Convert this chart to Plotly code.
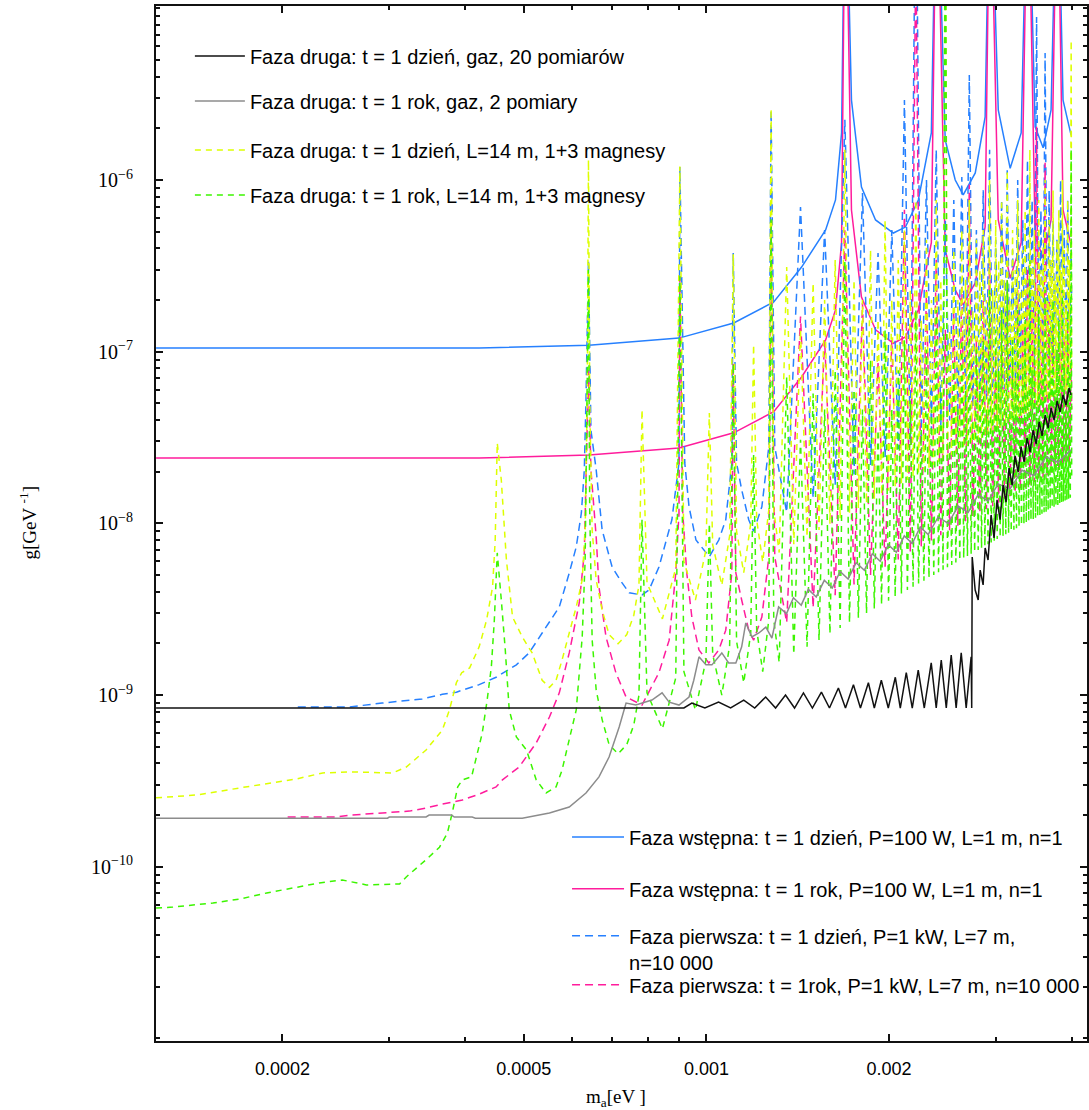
import plotly.graph_objects as go

# ---------------- data ----------------
# x: m_a [eV], y: g [GeV^-1]

# Faza wstepna (L=1 m): blue / pink solid, shared masses
solid_m = [1.238e-4, 4.22e-4, 6.40e-4, 9.01e-4, 1.109e-3, 1.291e-3, 1.435e-3, 1.572e-3, 1.632e-3,
           1.670e-3, 1.694e-3, 1.734e-3, 1.801e-3, 1.900e-3, 2.033e-3, 2.128e-3, 2.235e-3, 2.348e-3,
           2.396e-3, 2.475e-3, 2.571e-3, 2.650e-3, 2.774e-3, 2.880e-3, 2.934e-3, 3.027e-3, 3.167e-3,
           3.302e-3, 3.388e-3, 3.482e-3, 3.589e-3, 3.699e-3, 3.788e-3, 3.871e-3, 3.990e-3]
blue_solid_g = [1.05e-7, 1.05e-7, 1.09e-7, 1.20e-7, 1.47e-7, 1.95e-7, 3.11e-7, 5.12e-7, 7.65e-7,
                1.88e-6, 1e-4, 2.92e-6, 9.1e-7, 5.85e-7, 4.91e-7, 5.32e-7, 7.65e-7, 1.88e-6,
                1e-4, 1.71e-6, 1.0e-6, 8.2e-7, 1.10e-6, 2.33e-6, 1e-4, 2.56e-6, 1.17e-6,
                1.88e-6, 1e-4, 2.04e-6, 1.54e-6, 2.56e-6, 1e-4, 2.92e-6, 1.83e-6]
pink_solid_g = [2.40e-8, 2.40e-8, 2.50e-8, 2.75e-8, 3.37e-8, 4.47e-8, 7.12e-8, 1.17e-7, 1.75e-7,
                4.31e-7, 1e-4, 6.69e-7, 2.08e-7, 1.34e-7, 1.12e-7, 1.22e-7, 1.75e-7, 4.31e-7,
                1e-4, 3.92e-7, 2.29e-7, 1.88e-7, 2.52e-7, 5.34e-7, 1e-4, 5.86e-7, 2.68e-7,
                4.31e-7, 1e-4, 4.67e-7, 3.53e-7, 5.86e-7, 1e-4, 6.69e-7, 4.19e-7]

# Faza pierwsza (L=7 m): blue / pink dashed
blue_dash_early_m = [2.12e-4, 2.58e-4, 2.92e-4, 3.40e-4, 3.67e-4, 3.87e-4, 4.22e-4, 4.50e-4, 4.86e-4,
                     5.10e-4, 5.36e-4, 5.72e-4, 5.94e-4, 6.10e-4, 6.22e-4, 6.29e-4, 6.33e-4, 6.39e-4,
                     6.45e-4, 6.58e-4, 6.73e-4, 6.99e-4, 7.26e-4, 7.46e-4, 7.83e-4, 8.04e-4, 8.35e-4,
                     8.77e-4, 9.01e-4, 9.04e-4, 9.21e-4, 9.36e-4, 9.61e-4, 1.011e-3, 1.048e-3, 1.076e-3,
                     1.101e-3, 1.107e-3, 1.121e-3, 1.143e-3, 1.174e-3, 1.196e-3, 1.234e-3, 1.267e-3,
                     1.278e-3, 1.296e-3]
blue_dash_early_g = [8.53e-10, 8.53e-10, 8.99e-10, 9.49e-10, 1.01e-9, 1.04e-9, 1.15e-9, 1.27e-9, 1.50e-9,
                     1.76e-9, 2.30e-9, 3.26e-9, 5.14e-9, 7.29e-9, 1.15e-8, 2.05e-8, 5.23e-8, 3.42e-7,
                     3.5e-8, 2.05e-8, 9.16e-9, 5.57e-9, 4.50e-9, 3.94e-9, 3.83e-9, 4.09e-9, 5.57e-9,
                     1.05e-8, 2.25e-8, 1.19e-6, 2.25e-8, 1.25e-8, 8.0e-9, 6.4e-9, 8.0e-9, 1.05e-8,
                     2.25e-8, 3.76e-7, 2.25e-8, 1.57e-8, 1.05e-8, 9.0e-9, 1.25e-8, 2.79e-8,
                     2.56e-6, 2.79e-8]
pink_dash_early_m = [2.04e-4, 2.46e-4, 2.58e-4, 2.92e-4, 3.24e-4, 3.45e-4, 3.67e-4, 3.96e-4, 4.22e-4,
                     4.50e-4, 4.61e-4, 4.91e-4, 5.24e-4, 5.51e-4, 5.72e-4, 5.94e-4, 6.17e-4, 6.29e-4,
                     6.39e-4, 6.45e-4, 6.58e-4, 6.65e-4, 6.83e-4, 7.09e-4, 7.37e-4, 7.83e-4, 8.35e-4,
                     8.68e-4, 8.90e-4, 9.01e-4, 9.04e-4, 9.14e-4, 9.28e-4, 9.46e-4, 9.72e-4, 1.009e-3,
                     1.048e-3, 1.076e-3, 1.101e-3, 1.107e-3, 1.118e-3, 1.143e-3, 1.174e-3, 1.196e-3,
                     1.234e-3, 1.267e-3, 1.278e-3, 1.296e-3]
pink_dash_early_g = [1.95e-10, 1.95e-10, 2.00e-10, 2.06e-10, 2.11e-10, 2.20e-10, 2.32e-10, 2.45e-10, 2.65e-10,
                     2.92e-10, 3.21e-10, 3.81e-10, 5.26e-10, 7.45e-10, 1.03e-9, 1.76e-9, 3.44e-9, 6.73e-9,
                     7.8e-8, 2.05e-8, 8.34e-9, 4.26e-9, 2.18e-9, 1.35e-9, 9.75e-10, 8.75e-10, 1.35e-9,
                     2.09e-9, 5.14e-9, 1.15e-8, 2.72e-7, 1.15e-8, 5.14e-9, 2.85e-9, 1.83e-9, 1.54e-9,
                     1.83e-9, 2.39e-9, 5.14e-9, 8.6e-8, 5.14e-9, 3.58e-9, 2.39e-9, 2.09e-9,
                     2.85e-9, 6.37e-9, 5.85e-7, 6.37e-9]
l7_min_m = [0.001356, 0.001499, 0.001630, 0.001751, 0.001864, 0.001970, 0.002071, 0.002168, 0.002260,
            0.002349, 0.002434, 0.002517, 0.002597, 0.002674, 0.002749, 0.002823, 0.002894, 0.002964,
            0.003032, 0.003099, 0.003164, 0.003228, 0.003291, 0.003352, 0.003413, 0.003472, 0.003530,
            0.003588, 0.003644, 0.003700, 0.003755, 0.003809, 0.003862, 0.003914, 0.003966]
l7_peak_m = [0.001429, 0.001566, 0.001691, 0.001808, 0.001918, 0.002021, 0.002120, 0.002214, 0.002305,
             0.002392, 0.002476, 0.002557, 0.002636, 0.002712, 0.002786, 0.002859, 0.002929, 0.002998,
             0.003066, 0.003132, 0.003196, 0.003259, 0.003322, 0.003382, 0.003442, 0.003501, 0.003559,
             0.003616, 0.003672, 0.003727, 0.003782, 0.003835, 0.003888, 0.003940, 0.003992]
blue_dash_min_g = [1.16e-8, 1.41e-8, 1.67e-8, 1.93e-8, 2.18e-8, 2.44e-8, 2.70e-8, 2.96e-8, 3.21e-8,
                   3.47e-8, 3.73e-8, 3.98e-8, 4.24e-8, 4.50e-8, 4.75e-8, 5.01e-8, 5.27e-8, 5.53e-8,
                   5.78e-8, 6.04e-8, 6.30e-8, 6.55e-8, 6.81e-8, 7.07e-8, 7.32e-8, 7.58e-8, 7.84e-8,
                   8.10e-8, 8.35e-8, 8.61e-8, 8.87e-8, 9.12e-8, 9.38e-8, 9.64e-8, 9.89e-8]
blue_dash_peak_g = [6.97e-7, 5.12e-7, 2.24e-6, 8.4e-7, 3.76e-7, 5.12e-7, 2.92e-6, 1e-4, 1.0e-6,
                    1.5e-6, 5.85e-7, 7.65e-7, 1.04e-6, 4.09e-6, 5.12e-7, 8.7e-7, 1.5e-6, 4.48e-7,
                    7.65e-7, 1.14e-6, 3.91e-7, 1.0e-6, 5.85e-7, 1.31e-6, 7.65e-7, 8.9e-6, 6.68e-7,
                    5.5e-6, 8.7e-7, 5.85e-7, 4.48e-7, 1.0e-6, 5.12e-7, 7.65e-7, 3.91e-7]
pink_dash_min_g = [2.65e-9, 3.23e-9, 3.82e-9, 4.41e-9, 5.00e-9, 5.59e-9, 6.17e-9, 6.76e-9, 7.35e-9,
                   7.94e-9, 8.53e-9, 9.11e-9, 9.70e-9, 1.03e-8, 1.09e-8, 1.15e-8, 1.21e-8, 1.26e-8,
                   1.32e-8, 1.38e-8, 1.44e-8, 1.50e-8, 1.56e-8, 1.62e-8, 1.68e-8, 1.74e-8, 1.79e-8,
                   1.85e-8, 1.91e-8, 1.97e-8, 2.03e-8, 2.09e-8, 2.15e-8, 2.21e-8, 2.26e-8]
pink_dash_peak_g = [1.6e-7, 1.17e-7, 5.1e-7, 1.92e-7, 8.6e-8, 1.17e-7, 6.7e-7, 2.3e-5, 2.29e-7,
                    3.43e-7, 1.34e-7, 1.75e-7, 2.38e-7, 9.4e-7, 1.17e-7, 1.99e-7, 3.43e-7, 1.03e-7,
                    1.75e-7, 2.61e-7, 8.9e-8, 2.29e-7, 1.34e-7, 3.0e-7, 1.75e-7, 2.04e-6, 1.53e-7,
                    1.26e-6, 1.99e-7, 1.34e-7, 1.03e-7, 2.29e-7, 1.17e-7, 1.75e-7, 8.9e-8]
end_m = 0.004
blue_dash_end_g = 2.0e-7
pink_dash_end_g = 4.6e-8

# Faza druga, L=14 m, 1+3 magnesy: yellow / green dashed
yellow_early_m = [1.238e-4, 1.446e-4, 1.701e-4, 2.11e-4, 2.33e-4, 2.58e-4, 3.04e-4, 3.20e-4, 3.45e-4,
                  3.67e-4, 3.77e-4, 3.87e-4, 3.95e-4, 4.07e-4, 4.22e-4, 4.34e-4, 4.44e-4, 4.485e-4,
                  4.52e-4, 4.59e-4, 4.68e-4, 4.79e-4, 4.97e-4, 5.16e-4, 5.36e-4, 5.51e-4, 5.65e-4,
                  5.78e-4, 5.94e-4, 6.10e-4, 6.24e-4, 6.31e-4, 6.36e-4, 6.39e-4, 6.42e-4, 6.48e-4,
                  6.58e-4, 6.73e-4, 6.91e-4, 7.15e-4, 7.39e-4, 7.59e-4, 7.74e-4, 7.83e-4, 7.98e-4,
                  8.46e-4, 8.90e-4, 9.04e-4, 9.18e-4, 9.59e-4, 9.98e-4, 1.011e-3, 1.024e-3, 1.060e-3,
                  1.092e-3, 1.107e-3, 1.121e-3, 1.152e-3, 1.183e-3, 1.196e-3, 1.210e-3, 1.238e-3,
                  1.267e-3, 1.278e-3, 1.291e-3]
yellow_early_g = [2.52e-10, 2.62e-10, 2.88e-10, 3.25e-10, 3.52e-10, 3.57e-10, 3.52e-10, 3.81e-10, 4.79e-10,
                  6.26e-10, 8.19e-10, 1.18e-9, 1.35e-9, 1.44e-9, 1.91e-9, 2.73e-9, 4.26e-9, 8.0e-9,
                  2.94e-8, 1.79e-8, 6.12e-9, 2.85e-9, 2.18e-9, 1.76e-9, 1.22e-9, 1.11e-9, 1.22e-9,
                  1.60e-9, 2.30e-9, 3.26e-9, 4.68e-9, 9.16e-9, 5.23e-8, 1.31e-6, 5.23e-8, 9.16e-9,
                  4.68e-9, 3.13e-9, 2.25e-9, 1.99e-9, 2.25e-9, 2.92e-9, 4.38e-9, 4.6e-8, 4.5e-9,
                  2.78e-9, 5.5e-9, 1.2e-6, 6e-9, 3.58e-9, 7e-9, 4.4e-8, 7.5e-9, 4.37e-9,
                  8.5e-9, 3.7e-7, 9e-9, 5.17e-9, 1e-8, 1.1e-7, 1.05e-8, 5.96e-9,
                  1.2e-8, 2.6e-6, 1.2e-8]
green_early_m = [1.238e-4, 1.32e-4, 1.536e-4, 1.701e-4, 1.884e-4, 2.08e-4, 2.30e-4, 2.51e-4, 2.61e-4,
                 2.75e-4, 3.12e-4, 3.20e-4, 3.45e-4, 3.63e-4, 3.74e-4, 3.81e-4, 3.89e-4, 3.96e-4,
                 4.10e-4, 4.27e-4, 4.35e-4, 4.42e-4, 4.47e-4, 4.52e-4, 4.59e-4, 4.66e-4, 4.73e-4,
                 4.86e-4, 5.05e-4, 5.24e-4, 5.44e-4, 5.65e-4, 5.78e-4, 5.94e-4, 6.10e-4, 6.24e-4,
                 6.31e-4, 6.39e-4, 6.42e-4, 6.48e-4, 6.58e-4, 6.73e-4, 6.91e-4, 7.15e-4, 7.39e-4,
                 7.59e-4, 7.74e-4, 7.83e-4, 7.98e-4, 8.46e-4, 8.90e-4, 9.04e-4, 9.18e-4, 9.59e-4,
                 9.98e-4, 1.011e-3, 1.024e-3, 1.060e-3, 1.092e-3, 1.107e-3, 1.121e-3, 1.152e-3,
                 1.183e-3, 1.196e-3, 1.210e-3, 1.238e-3, 1.267e-3, 1.278e-3, 1.291e-3]
green_early_g = [5.75e-11, 5.83e-11, 6.15e-11, 6.49e-11, 7.04e-11, 7.53e-11, 8.05e-11, 8.38e-11, 8.16e-11,
                 7.84e-11, 7.94e-11, 8.73e-11, 1.10e-10, 1.30e-10, 1.57e-10, 2.06e-10, 2.92e-10, 3.21e-10,
                 3.34e-10, 6.01e-10, 9.36e-10, 1.46e-9, 2.73e-9, 6.73e-9, 3.58e-9, 1.83e-9, 8.19e-10,
                 5.70e-10, 4.79e-10, 3.21e-10, 2.69e-10, 2.92e-10, 3.66e-10, 5.48e-10, 8.19e-10, 2.18e-9,
                 6.12e-9, 2.99e-7, 1.2e-8, 2.1e-9, 1.07e-9, 7.2e-10, 5.15e-10, 4.55e-10, 5.15e-10,
                 6.7e-10, 1.0e-9, 1.05e-8, 1.03e-9, 6.37e-10, 1.26e-9, 2.75e-7, 1.37e-9, 8.19e-10,
                 1.6e-9, 1.0e-8, 1.72e-9, 1.0e-9, 1.95e-9, 8.5e-8, 2.06e-9, 1.18e-9,
                 2.29e-9, 2.5e-8, 2.4e-9, 1.37e-9, 2.75e-9, 5.9e-7, 2.75e-9]
l14_min_m = [0.001318, 0.001393, 0.001465, 0.001533, 0.001598, 0.001661, 0.001721, 0.001780, 0.001836,
             0.001891, 0.001944, 0.001996, 0.002047, 0.002096, 0.002144, 0.002191, 0.002237, 0.002283,
             0.002327, 0.002370, 0.002413, 0.002455, 0.002496, 0.002537, 0.002577, 0.002616, 0.002655,
             0.002693, 0.002731, 0.002768, 0.002805, 0.002841, 0.002877, 0.002912, 0.002947, 0.002981,
             0.003015, 0.003049, 0.003082, 0.003115, 0.003148, 0.003180, 0.003212, 0.003244, 0.003275,
             0.003306, 0.003337, 0.003367, 0.003398, 0.003427, 0.003457, 0.003487, 0.003516, 0.003545,
             0.003573, 0.003602, 0.003630, 0.003658, 0.003686, 0.003714, 0.003741, 0.003768, 0.003795,
             0.003822, 0.003849, 0.003875, 0.003901, 0.003927, 0.003953, 0.003979]
l14_peak_m = [0.001356, 0.001429, 0.001499, 0.001566, 0.001630, 0.001691, 0.001751, 0.001808, 0.001864,
              0.001918, 0.001970, 0.002021, 0.002071, 0.002120, 0.002168, 0.002214, 0.002260, 0.002305,
              0.002349, 0.002392, 0.002434, 0.002476, 0.002517, 0.002557, 0.002597, 0.002636, 0.002674,
              0.002712, 0.002749, 0.002786, 0.002823, 0.002859, 0.002894, 0.002929, 0.002964, 0.002998,
              0.003032, 0.003066, 0.003099, 0.003132, 0.003164, 0.003196, 0.003228, 0.003259, 0.003291,
              0.003322, 0.003352, 0.003382, 0.003413, 0.003442, 0.003472, 0.003501, 0.003530, 0.003559,
              0.003588, 0.003616, 0.003644, 0.003672, 0.003700, 0.003727, 0.003755, 0.003782, 0.003809,
              0.003835, 0.003862, 0.003888, 0.003914, 0.003940, 0.003966, 0.003992]
yellow_min_g = [6.76e-9, 7.55e-9, 8.35e-9, 9.14e-9, 9.94e-9, 1.07e-8, 1.15e-8, 1.23e-8, 1.31e-8, 1.39e-8,
                1.47e-8, 1.55e-8, 1.63e-8, 1.71e-8, 1.79e-8, 1.87e-8, 1.95e-8, 2.03e-8, 2.11e-8, 2.19e-8,
                2.27e-8, 2.35e-8, 2.42e-8, 2.50e-8, 2.58e-8, 2.66e-8, 2.74e-8, 2.82e-8, 2.90e-8, 2.98e-8,
                3.06e-8, 3.14e-8, 3.22e-8, 3.30e-8, 3.38e-8, 3.46e-8, 3.54e-8, 3.62e-8, 3.70e-8, 3.78e-8,
                3.86e-8, 3.94e-8, 4.01e-8, 4.09e-8, 4.17e-8, 4.25e-8, 4.33e-8, 4.41e-8, 4.49e-8, 4.57e-8,
                4.65e-8, 4.73e-8, 4.81e-8, 4.89e-8, 4.97e-8, 5.05e-8, 5.13e-8, 5.21e-8, 5.29e-8, 5.37e-8,
                5.45e-8, 5.53e-8, 5.60e-8, 5.68e-8, 5.76e-8, 5.84e-8, 5.92e-8, 6.00e-8, 6.08e-8, 6.16e-8]
yellow_peak_g = [3.11e-7, 1.34e-7, 2.51e-7, 2.0e-7, 3.42e-7, 1.5e-6, 2.62e-7, 2.0e-7, 3.91e-7, 1.53e-7,
                 5.85e-7, 2.0e-7, 3.42e-7, 5.12e-7, 2.29e-7, 7.65e-7, 1.53e-7, 4.48e-7, 2.0e-7, 7.65e-7,
                 2.62e-7, 1e-4, 1.34e-7, 3.91e-7, 2.0e-7, 5.12e-7, 2.62e-7, 7.65e-7, 1.75e-7, 4.48e-7,
                 2.99e-7, 5.12e-7, 2.0e-7, 1.0e-6, 2.29e-7, 5.85e-7, 3.42e-7, 7.65e-7, 2.62e-7, 1.14e-6,
                 2.0e-7, 5.12e-7, 2.99e-7, 7.65e-7, 2.29e-7, 3.91e-7, 6.68e-7, 2.62e-7, 1.5e-6, 3.42e-7,
                 5.12e-7, 2.29e-7, 7.65e-7, 2.99e-7, 4.48e-7, 1.0e-6, 2.0e-7, 5.85e-7, 3.42e-7, 8.7e-7,
                 2.62e-7, 4.48e-7, 6.68e-7, 2.99e-7, 1.0e-6, 3.91e-7, 2.0e-7, 7.65e-7, 3.42e-7, 6.5e-6]
green_min_g = [1.55e-9, 1.73e-9, 1.91e-9, 2.09e-9, 2.28e-9, 2.46e-9, 2.64e-9, 2.82e-9, 3.00e-9, 3.19e-9,
               3.37e-9, 3.55e-9, 3.73e-9, 3.91e-9, 4.10e-9, 4.28e-9, 4.46e-9, 4.64e-9, 4.82e-9, 5.01e-9,
               5.19e-9, 5.37e-9, 5.55e-9, 5.73e-9, 5.92e-9, 6.10e-9, 6.28e-9, 6.46e-9, 6.64e-9, 6.83e-9,
               7.01e-9, 7.19e-9, 7.37e-9, 7.55e-9, 7.74e-9, 7.92e-9, 8.10e-9, 8.28e-9, 8.46e-9, 8.65e-9,
               8.83e-9, 9.01e-9, 9.19e-9, 9.37e-9, 9.56e-9, 9.74e-9, 9.92e-9, 1.01e-8, 1.03e-8, 1.05e-8,
               1.06e-8, 1.08e-8, 1.10e-8, 1.12e-8, 1.14e-8, 1.16e-8, 1.17e-8, 1.19e-8, 1.21e-8, 1.23e-8,
               1.25e-8, 1.26e-8, 1.28e-8, 1.30e-8, 1.32e-8, 1.34e-8, 1.36e-8, 1.37e-8, 1.39e-8, 1.41e-8]
green_peak_g = [7.1e-8, 3.07e-8, 5.7e-8, 4.6e-8, 7.8e-8, 3.4e-7, 6.0e-8, 4.6e-8, 8.9e-8, 3.5e-8,
                1.34e-7, 4.6e-8, 7.8e-8, 1.17e-7, 5.2e-8, 1.75e-7, 3.5e-8, 1.03e-7, 4.6e-8, 1.75e-7,
                6.0e-8, 1e-4, 3.07e-8, 8.9e-8, 4.6e-8, 1.17e-7, 6.0e-8, 1.75e-7, 4.0e-8, 1.03e-7,
                6.8e-8, 1.17e-7, 4.6e-8, 2.29e-7, 5.2e-8, 1.34e-7, 7.8e-8, 1.75e-7, 6.0e-8, 2.61e-7,
                4.6e-8, 1.17e-7, 6.8e-8, 1.75e-7, 5.2e-8, 8.9e-8, 1.53e-7, 6.0e-8, 3.4e-7, 7.8e-8,
                1.17e-7, 5.2e-8, 1.75e-7, 6.8e-8, 1.03e-7, 2.29e-7, 4.6e-8, 1.34e-7, 7.8e-8, 2.0e-7,
                6.0e-8, 1.03e-7, 1.53e-7, 6.8e-8, 2.29e-7, 8.9e-8, 4.6e-8, 1.75e-7, 7.8e-8, 1.5e-6]
yellow_end_g = 8.0e-8
green_end_g = 1.8e-8

# Faza druga, gaz: gray (1 rok, 2 pomiary) and black (1 dzien, 20 pomiarow)
gray_m = [1.238e-4, 2.98e-4, 3.00e-4, 3.45e-4, 3.49e-4, 3.80e-4, 3.84e-4, 4.11e-4, 4.16e-4, 4.97e-4,
          5.51e-4, 5.94e-4, 6.33e-4, 6.65e-4, 6.91e-4, 7.18e-4, 7.37e-4, 7.65e-4, 8.13e-4, 8.45e-4,
          8.68e-4, 9.01e-4, 9.36e-4, 9.53e-4, 9.72e-4, 9.98e-4, 1.021e-3, 1.060e-3, 1.088e-3, 1.118e-3,
          1.143e-3, 1.161e-3, 1.188e-3, 1.220e-3, 1.253e-3, 1.282e-3, 1.315e-3, 1.355e-3, 1.391e-3,
          1.433e-3, 1.472e-3, 1.517e-3, 1.564e-3, 1.612e-3, 1.661e-3, 1.712e-3, 1.765e-3, 1.821e-3,
          1.877e-3, 1.934e-3, 1.994e-3, 2.056e-3, 2.119e-3, 2.184e-3, 2.251e-3, 2.320e-3, 2.410e-3,
          2.503e-3, 2.600e-3, 2.700e-3, 2.805e-3, 2.912e-3, 3.026e-3, 3.166e-3, 3.313e-3, 3.467e-3,
          3.628e-3, 3.797e-3, 3.990e-3]
gray_g = [1.92e-10, 1.92e-10, 1.95e-10, 1.95e-10, 2.00e-10, 2.00e-10, 1.95e-10, 1.95e-10, 1.92e-10, 1.92e-10,
          2.06e-10, 2.23e-10, 2.69e-10, 3.34e-10, 4.36e-10, 6.52e-10, 8.99e-10, 8.75e-10, 9.36e-10, 1.03e-9,
          9.1e-10, 8.75e-10, 9.75e-10, 1.22e-9, 1.67e-9, 1.50e-9, 1.50e-9, 1.76e-9, 1.54e-9, 1.54e-9,
          1.91e-9, 2.63e-9, 2.18e-9, 2.30e-9, 2.49e-9, 2.15e-9, 3.26e-9, 2.98e-9, 3.69e-9,
          3.34e-9, 4.13e-9, 3.73e-9, 4.66e-9, 4.20e-9, 5.25e-9, 4.74e-9, 5.91e-9, 5.34e-9,
          6.66e-9, 6.02e-9, 7.51e-9, 6.79e-9, 8.46e-9, 7.64e-9, 9.53e-9, 8.61e-9, 1.09e-8,
          9.99e-9, 1.26e-8, 1.16e-8, 1.47e-8, 1.35e-8, 1.70e-8, 1.59e-8, 2.04e-8, 1.90e-8,
          2.44e-8, 2.27e-8, 2.68e-8]
black_m = [1.238e-4, 9.18e-4, 9.46e-4, 9.94e-4, 1.047e-3, 1.096e-3, 1.152e-3, 1.201e-3, 1.252e-3, 1.300e-3,
           1.350e-3, 1.397e-3, 1.445e-3, 1.495e-3, 1.547e-3, 1.595e-3, 1.650e-3, 1.695e-3, 1.747e-3,
           1.794e-3, 1.849e-3, 1.891e-3, 1.942e-3, 1.994e-3, 2.048e-3, 2.087e-3, 2.135e-3, 2.184e-3,
           2.234e-3, 2.286e-3, 2.347e-3, 2.392e-3, 2.438e-3, 2.485e-3, 2.532e-3, 2.580e-3, 2.630e-3,
           2.680e-3, 2.731e-3, 2.737e-3, 2.742e-3, 2.773e-3, 2.805e-3, 2.826e-3, 2.858e-3, 2.880e-3,
           2.912e-3, 2.946e-3, 2.979e-3, 3.013e-3, 3.048e-3, 3.083e-3, 3.118e-3, 3.154e-3, 3.190e-3,
           3.226e-3, 3.264e-3, 3.301e-3, 3.339e-3, 3.377e-3, 3.416e-3, 3.455e-3, 3.495e-3, 3.535e-3,
           3.575e-3, 3.617e-3, 3.658e-3, 3.699e-3, 3.742e-3, 3.784e-3, 3.827e-3, 3.871e-3, 3.915e-3,
           3.960e-3, 3.990e-3]
black_g = [8.41e-10, 8.41e-10, 8.99e-10, 8.41e-10, 9.1e-10, 8.41e-10, 9.36e-10, 8.41e-10, 9.75e-10, 8.41e-10,
           1.0e-9, 8.41e-10, 1.03e-9, 8.41e-10, 1.04e-9, 8.41e-10, 1.10e-9, 8.41e-10, 1.15e-9,
           8.41e-10, 1.18e-9, 8.41e-10, 1.22e-9, 8.41e-10, 1.27e-9, 8.41e-10, 1.35e-9, 8.41e-10,
           1.40e-9, 8.41e-10, 1.54e-9, 8.41e-10, 1.60e-9, 8.41e-10, 1.71e-9, 8.41e-10, 1.76e-9,
           8.41e-10, 1.67e-9, 8.41e-10, 6.37e-9, 4.09e-9, 3.58e-9, 5.35e-9, 4.38e-9, 7.19e-9,
           6.12e-9, 1.12e-8, 8.22e-9, 1.37e-8, 1.05e-8, 1.67e-8, 1.33e-8, 2.10e-8, 1.67e-8,
           2.47e-8, 1.99e-8, 2.79e-8, 2.28e-8, 3.14e-8, 2.60e-8, 3.50e-8, 2.90e-8, 3.90e-8,
           3.23e-8, 4.28e-8, 3.59e-8, 4.70e-8, 4.00e-8, 5.16e-8, 4.45e-8, 5.60e-8, 4.89e-8,
           6.14e-8, 5.60e-8]

# axis ticks
x_tick_vals = [0.0002, 0.0005, 0.001, 0.002]
x_tick_text = ["0.0002", "0.0005", "0.001", "0.002"]
x_minor_vals = [0.0003, 0.0004, 0.0006, 0.0007, 0.0008, 0.0009, 0.003, 0.004]
y_tick_vals = [1e-10, 1e-9, 1e-8, 1e-7, 1e-6]
y_tick_text = ["10<sup>\u221210</sup>", "10<sup>\u22129</sup>", "10<sup>\u22128</sup>",
               "10<sup>\u22127</sup>", "10<sup>\u22126</sup>"]
y_minor_vals = [k * 10.0 ** e for e in range(-11, -5) for k in range(2, 10)] + [1e-11, 1e-5]

# legend labels
labels = {
    "black": "Faza druga: t = 1 dzień, gaz, 20 pomiarów",
    "gray": "Faza druga: t = 1 rok, gaz, 2 pomiary",
    "yellow": "Faza druga: t = 1 dzień, L=14 m, 1+3 magnesy",
    "green": "Faza druga: t = 1 rok, L=14 m, 1+3 magnesy",
    "blue": "Faza wstępna: t = 1 dzień, P=100 W, L=1 m, n=1",
    "pink": "Faza wstępna: t = 1 rok, P=100 W, L=1 m, n=1",
    "bluedash": "Faza pierwsza: t = 1 dzień, P=1 kW, L=7 m,<br>n=10 000",
    "pinkdash": "Faza pierwsza: t = 1rok, P=1 kW, L=7 m, n=10 000",
}

# ---------------- assemble series ----------------
def interleave(a, b):
    out = []
    for u, v in zip(a, b):
        out += [u, v]
    return out

bluedash_m = blue_dash_early_m + interleave(l7_min_m, l7_peak_m) + [end_m]
bluedash_g = blue_dash_early_g + interleave(blue_dash_min_g, blue_dash_peak_g) + [blue_dash_end_g]
pinkdash_m = pink_dash_early_m + interleave(l7_min_m, l7_peak_m) + [end_m]
pinkdash_g = pink_dash_early_g + interleave(pink_dash_min_g, pink_dash_peak_g) + [pink_dash_end_g]
yellow_m = yellow_early_m + interleave(l14_min_m, l14_peak_m) + [end_m]
yellow_g = yellow_early_g + interleave(yellow_min_g, yellow_peak_g) + [yellow_end_g]
green_m = green_early_m + interleave(l14_min_m, l14_peak_m) + [end_m]
green_g = green_early_g + interleave(green_min_g, green_peak_g) + [green_end_g]

BLUE = "#2680FF"
PINK = "#FF1C9C"
YELLOW = "#DDFF00"
GREEN = "#3CF500"
GRAY = "#8C8C8C"
BLACK = "#111111"

fig = go.Figure()

def add(x, y, color, dash, name, legend):
    fig.add_trace(go.Scatter(
        x=x, y=y, mode="lines", name=name,
        line=dict(color=color, width=1.5, dash=dash),
        legend=legend, hoverinfo="skip",
    ))

# drawing order: solids first, gas curves last (on top)
add(solid_m, blue_solid_g, BLUE, "solid", labels["blue"], "legend5")
add(solid_m, pink_solid_g, PINK, "solid", labels["pink"], "legend6")
add(bluedash_m, bluedash_g, BLUE, "8px,5px", labels["bluedash"], "legend7")
add(pinkdash_m, pinkdash_g, PINK, "8px,5px", labels["pinkdash"], "legend8")
add(yellow_m, yellow_g, YELLOW, "6px,5px", labels["yellow"], "legend3")
add(green_m, green_g, GREEN, "6px,5px", labels["green"], "legend4")
add(gray_m, gray_g, GRAY, "solid", labels["gray"], "legend2")
add(black_m, black_g, BLACK, "solid", labels["black"], "legend")

legend_font = dict(family="Liberation Sans, Arial, sans-serif", size=20, color="#000000")

def legend_box(x, y, iw):
    return dict(x=x, y=y, xanchor="left", yanchor="top", bgcolor="rgba(0,0,0,0)",
                font=legend_font, itemwidth=iw, valign="top", itemclick=False,
                itemdoubleclick=False)

# one legend box per row (positions in paper fraction)
legend_rows_left = [0.9705, 0.9271, 0.8797, 0.8362]
legend_rows_right = [0.2160, 0.1660, 0.1205, 0.0731]
layout_legends = {}
names_left = ["legend", "legend2", "legend3", "legend4"]
names_right = ["legend5", "legend6", "legend7", "legend8"]
for nm, yy in zip(names_left, legend_rows_left):
    layout_legends[nm] = legend_box(0.0364, yy, 50)
for nm, yy in zip(names_right, legend_rows_right):
    layout_legends[nm] = legend_box(0.4415, yy, 52)

fig.update_layout(
    width=1089, height=1110,
    margin=dict(l=156, r=0, t=6, b=69),
    paper_bgcolor="white", plot_bgcolor="white",
    showlegend=True,
    xaxis=dict(
        type="log", range=[-3.9074, -2.3727],
        showgrid=False, zeroline=False,
        showline=True, linecolor="#111111", linewidth=2, mirror="ticks",
        ticks="inside", ticklen=7, tickwidth=1.5, tickcolor="#111111",
        tickmode="array", tickvals=x_tick_vals, ticktext=x_tick_text,
        tickfont=dict(family="Liberation Sans, Arial, sans-serif", size=18, color="#000000"),
        ticklabelstandoff=10,
        minor=dict(tickmode="array", tickvals=x_minor_vals, ticks="inside", ticklen=4,
                   tickwidth=1.5, tickcolor="#111111", showgrid=False),
    ),
    yaxis=dict(
        type="log", range=[-11.0146, -4.9866],
        showgrid=False, zeroline=False,
        showline=True, linecolor="#111111", linewidth=2, mirror="ticks",
        ticks="inside", ticklen=7, tickwidth=1.5, tickcolor="#111111",
        tickmode="array", tickvals=y_tick_vals, ticktext=y_tick_text,
        tickfont=dict(family="Liberation Serif, Times New Roman, serif", size=20, color="#000000"),
        ticklabelstandoff=17,
        minor=dict(tickmode="array", tickvals=y_minor_vals, ticks="inside", ticklen=4,
                   tickwidth=1.5, tickcolor="#111111", showgrid=False),
    ),
    annotations=[
        dict(text="g[GeV <sup>-1</sup>]", xref="paper", yref="paper", x=-0.137, y=0.5014,
             xanchor="center", yanchor="middle", textangle=-90, showarrow=False,
             font=dict(family="Liberation Serif, Times New Roman, serif", size=19, color="#000000")),
        dict(text="m<sub>a</sub>[eV ]", xref="paper", yref="paper", x=0.494, y=-0.0555,
             xanchor="center", yanchor="middle", showarrow=False,
             font=dict(family="Liberation Serif, Times New Roman, serif", size=19, color="#000000")),
    ],
    **layout_legends,
)

fig.write_html("out.html", config={"displayModeBar": False},
               post_script="document.body.style.margin='0px';")
